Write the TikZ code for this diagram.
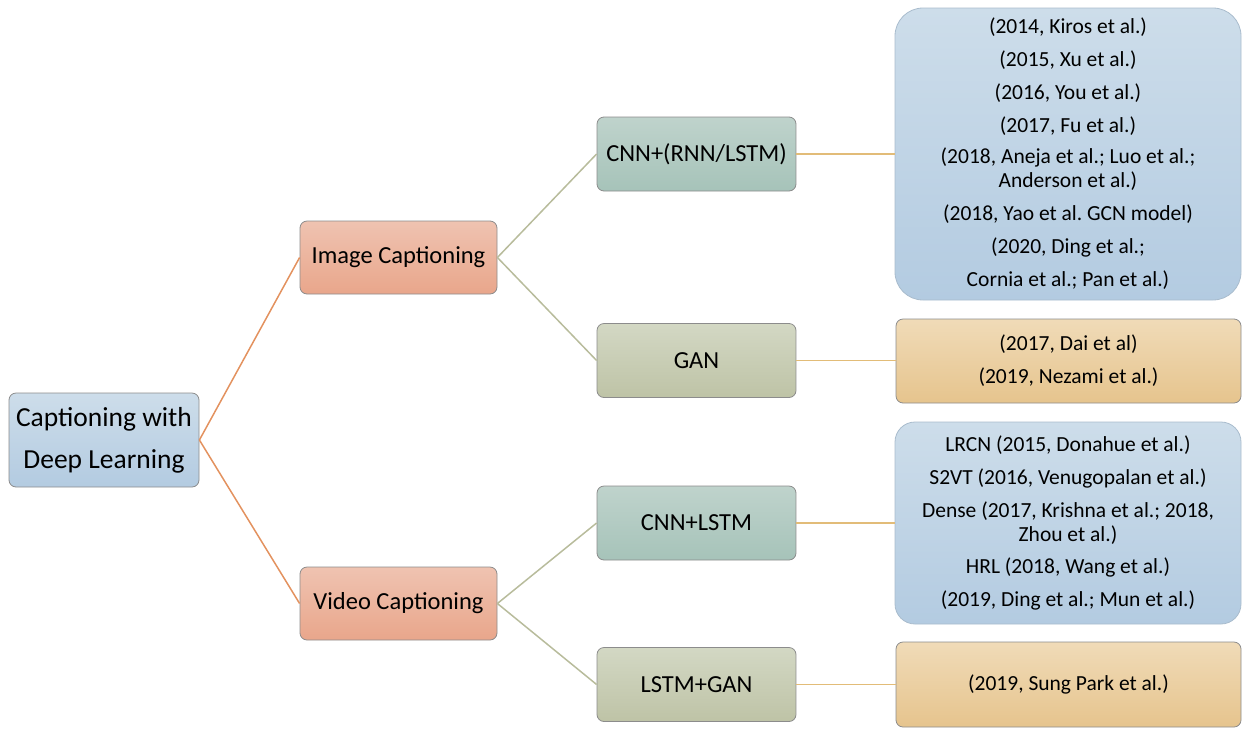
\documentclass[tikz,border=0pt]{standalone}
\usepackage{fontspec}
\setmainfont{Carlito}
\frenchspacing
\definecolor{rootTop}{HTML}{CDDDEA}
\definecolor{rootBot}{HTML}{B3CBE1}
\definecolor{salTop}{HTML}{EFC3B1}
\definecolor{salBot}{HTML}{E9A68B}
\definecolor{tealTop}{HTML}{BFD3CC}
\definecolor{tealBot}{HTML}{A6C3B9}
\definecolor{oliveTop}{HTML}{D3D8C4}
\definecolor{oliveBot}{HTML}{BEC3A6}
\definecolor{goldTop}{HTML}{F0DBB8}
\definecolor{goldBot}{HTML}{E6C48D}
\definecolor{boxLine}{HTML}{8C8C8C}
\definecolor{orangeLink}{HTML}{E3925F}
\definecolor{oliveLink}{HTML}{B8BC9C}
\definecolor{goldLink}{HTML}{E2BC78}
\tikzset{
  box/.style={draw=boxLine, line width=0.8pt, rounded corners=7pt, align=center,
    inner sep=0pt, anchor=center},
  rootbox/.style={box, top color=rootTop, bottom color=rootBot,
    minimum width=190pt, minimum height=94pt, font=\fontsize{27.5}{33}\selectfont},
  catbox/.style={box, top color=salTop, bottom color=salBot,
    minimum width=197pt, minimum height=73pt, font=\fontsize{24.5}{29}\selectfont},
  tealbox/.style={box, top color=tealTop, bottom color=tealBot,
    minimum width=199pt, minimum height=74pt, font=\fontsize{24.5}{29}\selectfont},
  olivebox/.style={box, top color=oliveTop, bottom color=oliveBot,
    minimum width=199pt, minimum height=74pt, font=\fontsize{24.5}{29}\selectfont},
  refblue/.style={box, draw=rootBot!80!gray, top color=rootTop, bottom color=rootBot,
    minimum width=346pt, font=\fontsize{21.5}{24}\selectfont},
  refgold/.style={box, top color=goldTop, bottom color=goldBot,
    minimum width=345pt, font=\fontsize{21.5}{24}\selectfont},
  orangeline/.style={draw=orangeLink, line width=1.5pt},
  oliveline/.style={draw=oliveLink, line width=1.5pt},
  goldline/.style={draw=goldLink, line width=1.5pt},
}
\begin{document}
\begin{tikzpicture}[x=1pt,y=-1pt]
\useasboundingbox (0,0) rectangle (1243,729);

% level 1
\node[rootbox] (root) at (104,440) {Captioning with\\[9pt]Deep Learning};

% level 2
\node[catbox] (img) at (398.5,257.5) {Image Captioning};
\node[catbox] (vid) at (398.5,603.5) {Video Captioning};

% level 3
\node[tealbox] (cnnrnn) at (696.5,154) {CNN+(RNN/LSTM)};
\node[olivebox] (gan) at (696.5,360.5) {GAN};
\node[tealbox] (cnnlstm) at (696.5,523) {CNN+LSTM};
\node[olivebox] (lstmgan) at (696.5,684.5) {LSTM+GAN};

% level 4: references
\node[refblue, rounded corners=28pt, minimum height=292pt] (refA) at (1068,154)
  {(2014, Kiros et al.)\\[9pt]
   (2015, Xu et al.)\\[9pt]
   (2016, You et al.)\\[9pt]
   (2017, Fu et al.)\\[7pt]
   (2018, Aneja et al.; Luo et al.;\\
   Anderson et al.)\\[9pt]
   (2018, Yao et al. GCN model)\\[9pt]
   (2020, Ding et al.;\\[9pt]
   Cornia et al.; Pan et al.)};
\node[refgold, minimum height=84pt] (refB) at (1068.5,361)
  {(2017, Dai et al)\\[9pt]
   (2019, Nezami et al.)};
\node[refblue, rounded corners=20pt, minimum height=202pt] (refC) at (1068,523)
  {LRCN (2015, Donahue et al.)\\[9pt]
   S2VT (2016, Venugopalan et al.)\\[9pt]
   Dense (2017, Krishna et al.; 2018,\\
   Zhou et al.)\\[8pt]
   HRL (2018, Wang et al.)\\[9pt]
   (2019, Ding et al.; Mun et al.)};
\node[refgold, minimum height=85pt] (refD) at (1068.5,684.5)
  {(2019, Sung Park et al.)};

% connectors
\draw[orangeline] (root.east) -- (img.west);
\draw[orangeline] (root.east) -- (vid.west);
\draw[oliveline] (img.east) -- (cnnrnn.west);
\draw[oliveline] (img.east) -- (gan.west);
\draw[oliveline] (vid.east) -- (cnnlstm.west);
\draw[oliveline] (vid.east) -- (lstmgan.west);
\draw[goldline] (cnnrnn.east) -- (refA.west |- cnnrnn.east);
\draw[goldline] (gan.east) -- (refB.west |- gan.east);
\draw[goldline] (cnnlstm.east) -- (refC.west |- cnnlstm.east);
\draw[goldline] (lstmgan.east) -- (refD.west |- lstmgan.east);
\end{tikzpicture}
\end{document}
